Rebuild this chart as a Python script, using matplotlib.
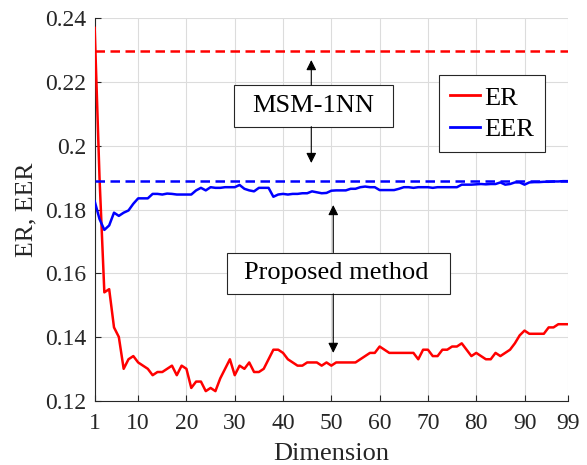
import numpy as np
import matplotlib
matplotlib.use("Agg")
import matplotlib.pyplot as plt
from matplotlib.patches import Rectangle

plt.rcParams['font.family'] = ['Liberation Serif', 'DejaVu Serif']

# error rates of the proposed method, dimension 1..99
dims = list(range(1, 100))
er = [0.237, 0.190, 0.154, 0.155, 0.143, 0.140, 0.130, 0.133, 0.134, 0.132,
      0.131, 0.130, 0.128, 0.129, 0.129, 0.130, 0.131, 0.128, 0.131, 0.130,
      0.124, 0.126, 0.126, 0.123, 0.124, 0.123, 0.127, 0.130, 0.133, 0.128,
      0.131, 0.130, 0.132, 0.129, 0.129, 0.130, 0.133, 0.136, 0.136, 0.135,
      0.133, 0.132, 0.131, 0.131, 0.132, 0.132, 0.132, 0.131, 0.132, 0.131,
      0.132, 0.132, 0.132, 0.132, 0.132, 0.133, 0.134, 0.135, 0.135, 0.137,
      0.136, 0.135, 0.135, 0.135, 0.135, 0.135, 0.135, 0.133, 0.136, 0.136,
      0.134, 0.134, 0.136, 0.136, 0.137, 0.137, 0.138, 0.136, 0.134, 0.135,
      0.134, 0.133, 0.133, 0.135, 0.134, 0.135, 0.136, 0.138, 0.1405, 0.142,
      0.141, 0.141, 0.141, 0.141, 0.143, 0.143, 0.144, 0.144, 0.144]
eer = [0.1826, 0.177, 0.1736, 0.175, 0.179, 0.178, 0.179, 0.1797, 0.1818, 0.1835,
       0.1835, 0.1835, 0.1849, 0.1849, 0.1847, 0.185, 0.1849, 0.1847, 0.1847, 0.1847,
       0.1847, 0.186, 0.1868, 0.186, 0.187, 0.1868, 0.1868, 0.187, 0.187, 0.187,
       0.1877, 0.1865, 0.186, 0.1857, 0.1868, 0.1868, 0.1868, 0.184, 0.1847, 0.1849,
       0.1847, 0.1849, 0.1849, 0.1851, 0.1851, 0.1857, 0.1854, 0.1851, 0.1852, 0.1859,
       0.186, 0.186, 0.186, 0.1865, 0.1865, 0.187, 0.1872, 0.187, 0.187, 0.1861,
       0.1861, 0.1861, 0.1861, 0.1865, 0.187, 0.187, 0.1868, 0.187, 0.187, 0.187,
       0.1868, 0.187, 0.187, 0.187, 0.187, 0.187, 0.1878, 0.1878, 0.1878, 0.1879,
       0.188, 0.1879, 0.188, 0.188, 0.1885, 0.1878, 0.188, 0.1885, 0.1885, 0.1878,
       0.1885, 0.1886, 0.1886, 0.1887, 0.1887, 0.1888, 0.1888, 0.1889, 0.1889]

# MSM-1NN baseline
msm_er = 0.2298
msm_eer = 0.1888

xticks = [1, 10, 20, 30, 40, 50, 60, 70, 80, 90, 99]
yticks = [0.12, 0.14, 0.16, 0.18, 0.2, 0.22, 0.24]
ytick_labels = ['0.12', '0.14', '0.16', '0.18', '0.2', '0.22', '0.24']

fig = plt.figure(figsize=(5.87, 4.65), dpi=100)
ax = fig.add_axes([0.1613, 0.1383, 0.8063, 0.8223])

ax.plot(dims, er, color='#ff0000', lw=1.8, label='ER', zorder=3)
ax.plot(dims, eer, color='#0000ff', lw=1.8, label='EER', zorder=3)
ax.axhline(msm_er, color='#ff0000', lw=1.8, dashes=(3.8, 2.2), zorder=3)
ax.axhline(msm_eer, color='#0000ff', lw=1.8, dashes=(3.8, 2.2), zorder=3)

ax.set_xlim(1, 99)
ax.set_ylim(0.12, 0.24)
ax.set_xticks(xticks)
ax.set_yticks(yticks)
ax.set_yticklabels(ytick_labels)
ax.grid(True, color='#dcdcdc', lw=0.8)
ax.set_axisbelow(True)
for s in ['top', 'right']:
    ax.spines[s].set_visible(False)
for s in ['left', 'bottom']:
    ax.spines[s].set_linewidth(0.8)
    ax.spines[s].set_color('#262626')
ax.tick_params(direction='in', length=4, width=0.8, labelsize=17, colors='#262626', pad=6)
ax.tick_params(axis='x', pad=9)
ax.set_xlabel('Dimension', fontsize=19, color='#262626', labelpad=6)
ax.set_ylabel('ER, EER', fontsize=18.5, color='#262626', labelpad=5.5)

# annotation boxes and arrows
ax.add_patch(Rectangle((29.9, 0.2060), 32.9, 0.0131, fc='white', ec='#262626', lw=0.8, zorder=4))
ax.text(46.3, 0.2125, 'MSM-1NN', fontsize=19, ha='center', va='center', zorder=5)
arw = dict(arrowstyle='-|>', color='k', lw=0.8, mutation_scale=15, shrinkA=0, shrinkB=0)
ax.annotate('', xy=(45.85, 0.2269), xytext=(45.85, 0.2191), arrowprops=arw, zorder=5)
ax.annotate('', xy=(45.85, 0.1946), xytext=(45.85, 0.2060), arrowprops=arw, zorder=5)

ax.add_patch(Rectangle((28.3, 0.1535), 46.3, 0.0130, fc='white', ec='#262626', lw=0.8, zorder=4))
ax.text(51.0, 0.1600, 'Proposed method', fontsize=19, ha='center', va='center', zorder=5)
ax.annotate('', xy=(50.4, 0.1814), xytext=(50.4, 0.1665), arrowprops=arw, zorder=5)
ax.annotate('', xy=(50.4, 0.1350), xytext=(50.4, 0.1535), arrowprops=arw, zorder=5)

leg = ax.legend(loc='upper right', bbox_to_anchor=(0.9514, 0.8517), borderaxespad=0,
                fontsize=19, handlelength=1.15, handletextpad=0.15, labelspacing=0.3,
                borderpad=0.42, fancybox=False, framealpha=1, edgecolor='#262626')
leg.get_frame().set_linewidth(0.8)
for ln in leg.get_lines():
    ln.set_linewidth(2.0)

fig.savefig('out.png', dpi=100)
